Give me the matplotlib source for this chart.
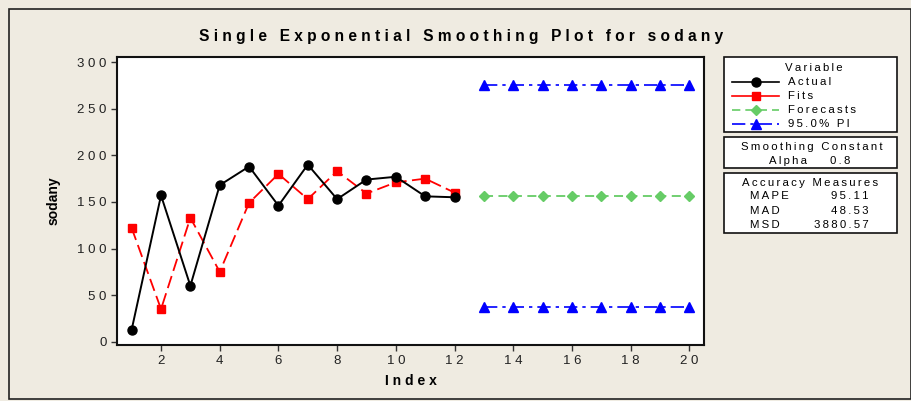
import matplotlib
matplotlib.use("Agg")
import matplotlib.pyplot as plt
from matplotlib.patches import Rectangle
from matplotlib.lines import Line2D

# ---- data ----
index_actual = list(range(1, 13))
actual = [13, 157, 60, 168, 188, 146, 190, 153, 174, 177, 156, 155]
fits = [122, 35, 133, 75, 149, 180, 153, 183, 159, 171, 175, 160]
index_fc = list(range(13, 21))
forecasts = [156] * 8
upper_pi = [275] * 8
lower_pi = [37] * 8
xticks = [2, 4, 6, 8, 10, 12, 14, 16, 18, 20]
yticks = [0, 50, 100, 150, 200, 250, 300]
alpha_value = "0.8"
acc_names = ["MAPE", "MAD", "MSD"]
acc_values = ["95.11", "48.53", "3880.57"]

BG = "#EFEBE1"
FONT = "Liberation Sans"
plt.rcParams['font.family'] = [FONT, 'DejaVu Sans']

def sp(s):
    return " ".join(s)

def tsp(s):
    return "\u2009".join(s)

W, H = 912, 401
fig = plt.figure(figsize=(W / 100, H / 100), dpi=100)
fig.patch.set_facecolor(BG)

def fx(px):
    return px / W

def fy(py):
    return 1 - py / H

# outer border
fig.add_artist(Rectangle((fx(9), fy(399)), fx(911) - fx(9), fy(9) - fy(399),
                         transform=fig.transFigure, fill=False, edgecolor="#222222", lw=1.2))

ax = fig.add_axes([fx(117), fy(345), fx(704) - fx(117), fy(57) - fy(345)])
ax.set_facecolor("white")

ax.plot(index_actual, fits, color="red", lw=1.3, ls=(0, (7, 3)), marker="s", ms=6,
        markeredgecolor="red", zorder=3)
ax.plot(index_actual, actual, color="black", lw=1.4, marker="o", ms=6.5, zorder=4)
ax.plot(index_fc, forecasts, color="#66CC66", lw=1.3, ls=(0, (5, 3)), marker="D", ms=5,
        zorder=3)
ax.plot(index_fc, upper_pi, color="blue", lw=1.2, ls=(0, (8, 3, 2, 3)), marker="^", ms=6.5,
        zorder=3)
ax.plot(index_fc, lower_pi, color="blue", lw=1.2, ls=(0, (8, 3, 2, 3)), marker="^", ms=6.5,
        zorder=3)

ax.set_xlim(0.5, 20.5)
ax.set_ylim(-3.5, 305.5)
ax.set_xticks(xticks)
ax.set_xticklabels([sp(str(t)) for t in xticks])
ax.set_yticks(yticks)
ax.set_yticklabels([sp(str(t)) for t in yticks])
ax.tick_params(direction="out", length=4, width=1, colors="#333333", labelsize=9.5,
               labelcolor="#222222")
for s in ax.spines.values():
    s.set_linewidth(1.5)
    s.set_color("#111111")

ax.set_xlabel(sp("Index"), fontsize=10, fontweight="bold", labelpad=5)
ax.set_ylabel("sodany", fontsize=10, fontweight="bold", labelpad=12)

fig.text(fx(461), fy(37), sp("Single Exponential Smoothing Plot for sodany"),
         ha="center", va="center", fontsize=11.2, fontweight="bold")

# ---- right panels ----
def box(x0, y0, x1, y1):
    fig.add_artist(Rectangle((fx(x0), fy(y1)), fx(x1) - fx(x0), fy(y0) - fy(y1),
                             transform=fig.transFigure, facecolor="white",
                             edgecolor="#111111", lw=1.2))

box(724, 57, 897, 132)
box(724, 137, 897, 168)
box(724, 173, 897, 233)

fs = 8.2
fig.text(fx(814), fy(68), tsp("Variable"), ha="center", va="center", fontsize=fs)
items = [
    ("Actual", dict(color="black", lw=1.2, marker="o", ms=6.5)),
    ("Fits", dict(color="red", lw=1.2, marker="s", ms=6)),
    ("Forecasts", dict(color="#66CC66", lw=1.2, ls=(0, (5, 3)), marker="D", ms=5)),
    ("95.0% PI", dict(color="blue", lw=1.2, ls=(0, (8, 3, 2, 3)), marker="^", ms=6.5)),
]
ys = [82, 96, 110, 124]
for (name, st), y in zip(items, ys):
    fig.add_artist(Line2D([fx(732), fx(779)], [fy(y), fy(y)], transform=fig.transFigure,
                          **{k: v for k, v in st.items() if k not in ("marker", "ms")}))
    fig.add_artist(Line2D([fx(756)], [fy(y)], transform=fig.transFigure, color=st["color"],
                          marker=st["marker"], ms=st["ms"], lw=0))
    fig.text(fx(788), fy(y), tsp(name), ha="left", va="center", fontsize=fs)

fig.text(fx(812), fy(147), tsp("Smoothing Constant"), ha="center", va="center", fontsize=fs)
fig.text(fx(769), fy(161), tsp("Alpha"), ha="left", va="center", fontsize=fs)
fig.text(fx(850), fy(161), tsp(alpha_value), ha="right", va="center", fontsize=fs)

fig.text(fx(810), fy(183), tsp("Accuracy Measures"), ha="center", va="center", fontsize=fs)
for i, (n, v) in enumerate(zip(acc_names, acc_values)):
    y = 196 + i * 14.5
    fig.text(fx(750), fy(y), tsp(n), ha="left", va="center", fontsize=fs)
    fig.text(fx(869), fy(y), tsp(v), ha="right", va="center", fontsize=fs)

fig.savefig("out.png", dpi=100, facecolor=BG)
